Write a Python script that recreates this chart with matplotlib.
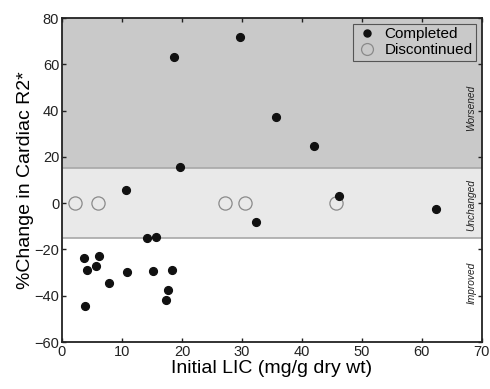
import matplotlib
matplotlib.use("Agg")
import matplotlib.pyplot as plt

plt.rcParams['font.family'] = ['Liberation Sans', 'DejaVu Sans']

# Completed patients: initial LIC and % change in cardiac R2*
completed_lic = [18.7, 29.7, 19.7, 10.7, 35.7, 42.0, 46.1, 32.4, 62.3,
                 3.7, 4.2, 5.6, 6.2, 7.8, 3.9, 10.8, 14.2, 15.6, 15.2, 18.3, 17.7, 17.3]
completed_chg = [63.0, 71.8, 15.8, 5.7, 37.4, 24.7, 3.1, -8.0, -2.5,
                 -23.9, -28.9, -27.3, -22.7, -34.7, -44.5, -29.8, -15.1, -14.5, -29.3, -29.0, -37.4, -41.9]
# Discontinued patients
discont_lic = [2.1, 6.0, 27.2, 30.5, 45.7]
discont_chg = [0.0, 0.0, 0.0, 0.0, 0.0]

band_limits = [-15, 15]
region_labels = ["Improved", "Unchanged", "Worsened"]
region_centers = [-34.5, -1, 41]

fig = plt.figure(figsize=(4.9, 3.89), dpi=100)
ax = fig.add_axes([0.1265, 0.1208, 0.857, 0.8329])
ax.set_xlim(0, 70)
ax.set_ylim(-60, 80)

ax.axhspan(band_limits[1], 80, facecolor='#c9c9c9', edgecolor='none', zorder=0)
ax.axhspan(band_limits[0], band_limits[1], facecolor='#e9e9e9', edgecolor='none', zorder=0)
for b in band_limits:
    ax.axhline(b, color='#a8a8a8', lw=1.2, zorder=1)

ax.plot(completed_lic, completed_chg, 'o', color='#111111', ms=5.6, ls='none',
        label='Completed', zorder=3)
ax.plot(discont_lic, discont_chg, 'o', mfc='none', mec='#8a8a8a', mew=0.9, ms=9.5,
        ls='none', label='Discontinued', zorder=2)

for lab, yc in zip(region_labels, region_centers):
    ax.text(68.2, yc, lab, rotation=90, style='italic', fontsize=7.3,
            ha='center', va='center', color='#222222')

ax.set_xticks(range(0, 71, 10))
ax.set_yticks(range(-60, 81, 20))
ax.tick_params(direction='in', top=True, right=True, length=3, width=1,
               labelsize=10.5, colors='#222222', pad=2)
for s in ax.spines.values():
    s.set_linewidth(1.3)
    s.set_color('#222222')

ax.set_xlabel('Initial LIC (mg/g dry wt)', fontsize=14, labelpad=1)
ax.set_ylabel('%Change in Cardiac R2*', fontsize=14, labelpad=0)

leg = ax.legend(loc='upper right', fontsize=11, frameon=True, fancybox=False,
                borderaxespad=0.4, handletextpad=0.4, borderpad=0.2,
                labelspacing=0.15, handlelength=1.5, markerscale=0.9)
leg.get_frame().set_facecolor('#c9c9c9')
leg.get_frame().set_edgecolor('#555555')
leg.get_frame().set_linewidth(0.8)
leg.get_frame().set_alpha(1)

fig.savefig('out.png', dpi=100)
